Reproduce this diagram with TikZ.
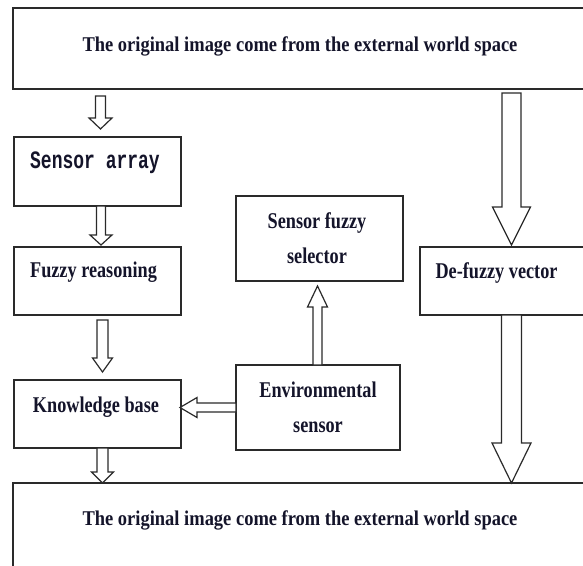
\documentclass[tikz,border=0pt]{standalone}
\usepackage{fontspec}
\usepackage{graphicx}
\setmainfont{Liberation Serif}
\newfontfamily\monofont{Liberation Mono}
\usetikzlibrary{calc}

\definecolor{boxline}{HTML}{2A2A2A}
\definecolor{ink}{HTML}{14142A}

% narrow bold serif lettering
\newcommand\narrow[1]{\scalebox{0.81}[1]{#1}}
\newcommand\narrowwide[1]{\scalebox{0.88}[1]{#1}}

\tikzset{
  x=1pt, y=-1pt,
  box/.style={draw=boxline, line width=1.3pt, fill=white, anchor=north west,
              inner sep=0pt, outer sep=0pt},
  lbl/.style={font=\fontsize{22.5}{35}\selectfont\bfseries, text=ink,
              align=center, inner sep=0pt},
  wide/.style={font=\fontsize{21}{24}\selectfont\bfseries, text=ink, inner sep=0pt},
  hollow/.style={draw=boxline, line width=1.2pt, fill=white, line join=miter},
}

% hollow block arrow: start, tip, shaft half-width, head half-width, head length
\newcommand\blockarrow[5]{%
  \coordinate (ba-h) at ($(#2)!#5pt!(#1)$);
  \draw[hollow] ($(#1)!#3pt!90:(#2)$) -- ($(ba-h)!#3pt!90:(#2)$)
    -- ($(ba-h)!#4pt!90:(#2)$) -- (#2) -- ($(ba-h)!#4pt!-90:(#2)$)
    -- ($(ba-h)!#3pt!-90:(#2)$) -- ($(#1)!#3pt!-90:(#2)$) -- cycle;
}

\begin{document}
\begin{tikzpicture}
\useasboundingbox[fill=white] (0,0) rectangle (583,565);

% boxes
\node[box, minimum width=620pt, minimum height=81pt]  (top)  at (13,8)    {};
\node[box, minimum width=167pt, minimum height=69pt]  (sarr) at (14,137)  {};
\node[box, minimum width=167pt, minimum height=68pt]  (fuzz) at (14,247)  {};
\node[box, minimum width=167pt, minimum height=68pt]  (know) at (14,380)  {};
\node[box, minimum width=167pt, minimum height=85pt]  (sel)  at (236,196) {};
\node[box, minimum width=164pt, minimum height=85pt]  (env)  at (236,365) {};
\node[box, minimum width=200pt, minimum height=68pt]  (defz) at (420,247) {};
\node[box, minimum width=620pt, minimum height=100pt] (bot)  at (13,483)  {};

% texts
\node[wide] (ttop) at ($(top.north west)+(287,38)$)
  {\narrowwide{The original image come from the external world space}};
\node[inner sep=0pt, text=ink] (tsarr) at ($(sarr.north)+(-2.5,26)$)
  {\scalebox{0.72}[1]{\fontsize{25}{27}\selectfont\monofont\bfseries Sensor array}};
\node[lbl] (tfuzz) at ($(fuzz.north)+(-4,25)$) {\narrow{Fuzzy reasoning}};
\node[lbl] (tknow) at ($(know.north)+(-1.5,27)$) {\narrow{Knowledge base}};
\node[lbl] (tdefz) at ($(defz.north west)+(76.5,26)$) {\narrow{De-fuzzy vector}};
\node[lbl] (tsel) at ($(sel.center)+(-2.5,0)$) {\narrow{Sensor fuzzy}\\\narrow{selector}};
\node[lbl] (tenv) at (env.center) {\narrow{Environmental}\\\narrow{sensor}};
\node[wide] (tbot) at ($(bot.north west)+(287,37)$)
  {\narrowwide{The original image come from the external world space}};

% arrow end points
\coordinate (a1s) at ($(top.south -| sarr.north)+(3,7)$);
\coordinate (a1e) at ($(sarr.north)+(3,-8)$);
\coordinate (a2s) at ($(sarr.south)+(3.5,0)$);
\coordinate (a2e) at ($(fuzz.north)+(3.5,-2)$);
\coordinate (a3s) at ($(fuzz.south)+(5,5)$);
\coordinate (a3e) at ($(know.north)+(5,-8)$);
\coordinate (a4s) at ($(know.south)+(5,0)$);
\coordinate (a4e) at ($(bot.north -| know.south)+(5,0)$);
\coordinate (b1s) at ($(top.south -| defz.north west)+(91.5,4)$);
\coordinate (b1e) at ($(defz.north west)+(91.5,-2)$);
\coordinate (b2s) at ($(defz.south west)+(91.5,0)$);
\coordinate (b2e) at ($(bot.north -| defz.south west)+(91.5,0)$);
\coordinate (us)  at ($(env.north)+(-0.5,0)$);
\coordinate (ue)  at ($(sel.south)+(-2,5)$);
\coordinate (ls)  at (env.west);
\coordinate (le)  at ($(know.east |- env.west)+(-1,0)$);

% connectors
\blockarrow{a1s}{a1e}{5}{11.5}{11}
\blockarrow{a2s}{a2e}{4.5}{11}{10}
\blockarrow{a3s}{a3e}{5.5}{10}{14}
\blockarrow{a4s}{a4e}{5.5}{11}{11}
\blockarrow{b1s}{b1e}{9.5}{19}{38}
\blockarrow{b2s}{b2e}{10}{19.5}{40}
\blockarrow{us}{ue}{4.5}{10}{21}
\blockarrow{ls}{le}{4.5}{10}{17}
\end{tikzpicture}
\end{document}
